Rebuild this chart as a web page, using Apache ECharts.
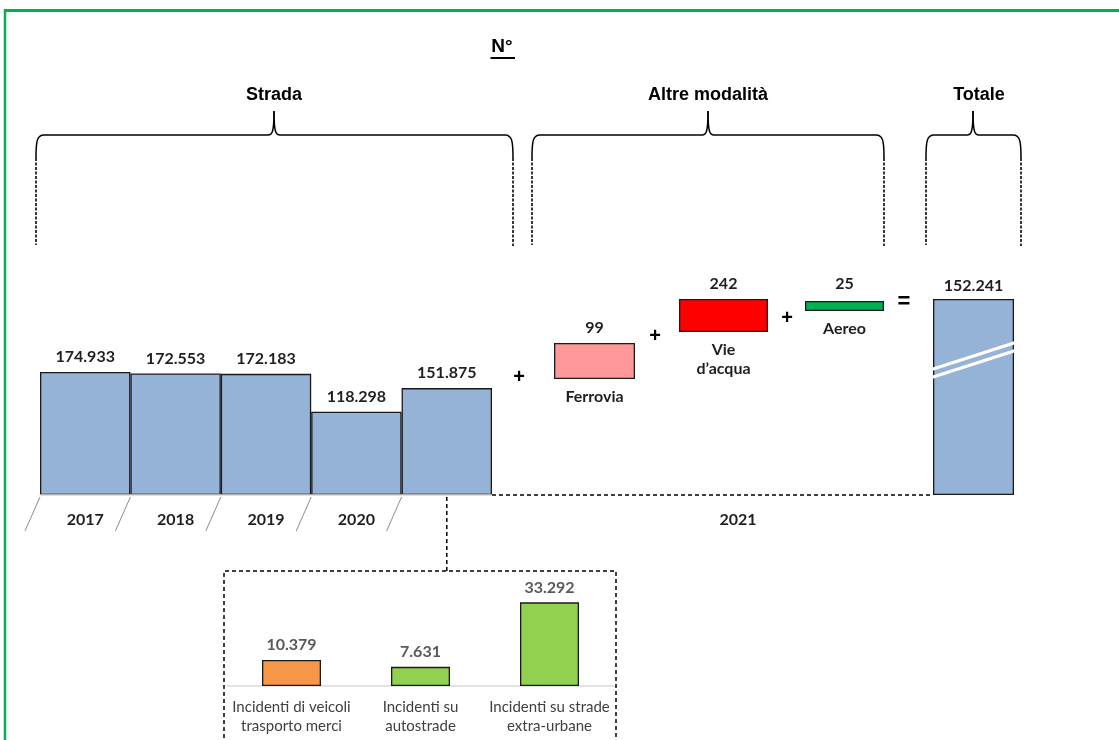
<!DOCTYPE html>
<html><head><meta charset="utf-8">
<script src="https://cdn.jsdelivr.net/npm/echarts@6/dist/echarts.min.js"></script>
<style>html,body{margin:0;padding:0;background:#fff}#c{width:1119px;height:740px}</style>
</head><body><div id="c"></div>
<script>
// ---- data ----
const years = ['2017', '2018', '2019', '2020', '2021'];
const stradaValues = [174933, 172553, 172183, 118298, 151875];
const altreNames = ['Ferrovia', 'Vie\nd\u2019acqua', 'Aereo'];
const altreValues = [99, 242, 25];
const altreColors = ['#FF9999', '#FF0000', '#00B050'];
const totaleValue = 152241;
const dettaglioNames = ['Incidenti di veicoli\ntrasporto merci', 'Incidenti su\nautostrade', 'Incidenti su strade\nextra-urbane'];
const dettaglioValues = [10379, 7631, 33292];
const dettaglioColors = ['#F79646', '#92D050', '#92D050'];
const groupTitles = ['Strada', 'Altre modalit\u00e0', 'Totale'];
const unitTitle = 'N\u00b0';
const yearTotale = '2021';

// ---- helpers ----
const fmt = v => String(v).replace(/\B(?=(\d{3})+(?!\d))/g, '.');
const CAL = 'Lato, "Open Sans", sans-serif';
const ARI = '"Liberation Sans", Arial, sans-serif';
const TXT = '#1f1f1f';
const valLabel = (dist) => ({show: true, position: 'top', distance: dist, formatter: p => fmt(p.value),
  color: TXT, fontFamily: CAL, fontWeight: 'bold', fontSize: 16});

const chart = echarts.init(document.getElementById('c'), null, {renderer: 'canvas'});

const W = 1119, H = 740;
const grids = [
  {left: 40, width: 452, top: 354.25, height: 140.75},   // strada
  {left: 554, width: 81, top: 343, height: 36},          // ferrovia
  {left: 679, width: 89, top: 299, height: 33},          // vie d'acqua
  {left: 805, width: 79, top: 301, height: 10},          // aereo
  {left: 933, width: 81, top: 299, height: 196},         // totale
  {left: 227, width: 387, top: 585.5, height: 100.5}     // dettaglio
];

const xAxes = [], yAxes = [], series = [];
// strada
xAxes.push({gridIndex: 0, type: 'category', data: years, z: 5,
  axisLine: {show: true, lineStyle: {color: '#d9d9d9', width: 1.5}}, axisTick: {show: false},
  axisLabel: {interval: 0, margin: 17, formatter: (v, i) => i < 4 ? v : '', color: TXT,
    fontFamily: CAL, fontWeight: 'bold', fontSize: 16}});
yAxes.push({gridIndex: 0, type: 'value', min: 0, max: 200000, show: false});
series.push({type: 'bar', xAxisIndex: 0, yAxisIndex: 0, data: stradaValues, barCategoryGap: '0%',
  itemStyle: {color: '#95B3D7', borderColor: '#1a1a1a', borderWidth: 1.3}, label: valLabel(7)});
// altre modalità
altreNames.forEach((n, i) => {
  const gi = i + 1;
  xAxes.push({gridIndex: gi, type: 'category', data: [n], axisLine: {show: false}, axisTick: {show: false},
    axisLabel: {interval: 0, margin: 8, color: TXT, fontFamily: CAL, fontWeight: 'bold', fontSize: 16, lineHeight: 19}});
  yAxes.push({gridIndex: gi, type: 'value', min: 0, max: 'dataMax', show: false});
  series.push({type: 'bar', xAxisIndex: gi, yAxisIndex: gi, data: [altreValues[i]], barWidth: '100%',
    itemStyle: {color: altreColors[i], borderColor: '#1a1a1a', borderWidth: 1.3}, label: valLabel(i === 2 ? 9 : 7)});
});
// totale
xAxes.push({gridIndex: 4, type: 'category', data: [groupTitles[2]], show: false});
yAxes.push({gridIndex: 4, type: 'value', min: 0, max: 'dataMax', show: false});
series.push({type: 'bar', xAxisIndex: 4, yAxisIndex: 4, data: [totaleValue], barWidth: '100%',
  itemStyle: {color: '#95B3D7', borderColor: '#1a1a1a', borderWidth: 1.3}, label: valLabel(5)});
// dettaglio
xAxes.push({gridIndex: 5, type: 'category', data: dettaglioNames,
  axisLine: {show: true, lineStyle: {color: '#d9d9d9', width: 1.5}}, axisTick: {show: false},
  axisLabel: {interval: 0, margin: 12, color: '#404040', fontFamily: CAL, fontSize: 15, lineHeight: 19}});
yAxes.push({gridIndex: 5, type: 'value', min: 0, max: 40000, show: false});
series.push({type: 'bar', xAxisIndex: 5, yAxisIndex: 5, barWidth: 59,
  data: dettaglioValues.map((v, i) => ({value: v, itemStyle: {color: dettaglioColors[i]}})),
  itemStyle: {borderColor: '#1a1a1a', borderWidth: 1.3},
  label: Object.assign(valLabel(7), {color: '#595959'})});

chart.setOption({animation: false, grid: grids, xAxis: xAxes, yAxis: yAxes, series: series});

// ---- decorations ----
const G = [];
const txt = (t, x, y, font, fill) => G.push({type: 'text', z: 10,
  style: {text: t, x: x, y: y, font: font, fill: fill || TXT, align: 'center', verticalAlign: 'middle'}});
const line = (x1, y1, x2, y2, stroke, lw, dash, z) => G.push({type: 'line', z: z || 10,
  shape: {x1: x1, y1: y1, x2: x2, y2: y2}, style: {stroke: stroke, lineWidth: lw, lineDash: dash || null}});
const curve = (x1, y1, c1x, c1y, c2x, c2y, x2, y2) => G.push({type: 'bezierCurve', z: 10,
  shape: {x1: x1, y1: y1, cpx1: c1x, cpy1: c1y, cpx2: c2x, cpy2: c2y, x2: x2, y2: y2},
  style: {stroke: '#000', lineWidth: 1.5, fill: null}});

// green frame
line(5, 10.5, W, 10.5, '#00B050', 3);
line(5, 9, 5, H, '#00B050', 2.5);

// unit title
txt(unitTitle, 502, 47, 'bold 19px ' + ARI, '#000');
line(490.5, 58, 515, 58, '#000', 2);

// braces
const braces = [[36, 513, 274], [532, 884, 708], [926, 1021, 973]];
const yH = 135, yTop = 111, yEnd = 158;
braces.forEach(function (b, i) {
  const x0 = b[0], x1 = b[1], tip = b[2];
  curve(x0, yEnd, x0, yH + 6, x0 + 1, yH, x0 + 8, yH);
  line(x0 + 8, yH, tip - 6, yH, '#000', 1.5);
  curve(tip - 6, yH, tip - 2, yH, tip, yH - 2, tip, yTop);
  curve(tip, yTop, tip, yH - 2, tip + 2, yH, tip + 6, yH);
  line(tip + 6, yH, x1 - 8, yH, '#000', 1.5);
  curve(x1 - 8, yH, x1 - 1, yH, x1, yH + 6, x1, yEnd);
  line(x0, yEnd, x0, 245, '#222', 1.8, [3, 1.5]);
  line(x1, yEnd, x1, 246, '#222', 1.8, [3, 1.5]);
  txt(groupTitles[i], i === 2 ? 979 : tip, 95, 'bold 18px ' + ARI, '#000');
});

// operators
txt('+', 519, 377, 'bold 20px ' + ARI, '#000');
txt('+', 655, 336, 'bold 20px ' + ARI, '#000');
txt('+', 787, 318, 'bold 20px ' + ARI, '#000');
txt('=', 904, 302, 'bold 22px ' + ARI, '#000');

// slanted separators & 2021 connectors (from scales)
const p0 = chart.convertToPixel({xAxisIndex: 0, yAxisIndex: 0}, [0, 0]);
const p1 = chart.convertToPixel({xAxisIndex: 0, yAxisIndex: 0}, [1, 0]);
const band = p1[0] - p0[0];
const base = p0[1];
for (let i = 0; i < years.length; i++) {
  const bx = p0[0] - band / 2 + i * band;
  line(bx, base + 2, bx - 15, base + 36, '#8c8c8c', 1);
}
const last = chart.convertToPixel({xAxisIndex: 0, yAxisIndex: 0}, [4, 0]);
line(last[0] + band / 2, base, 932, base, '#000', 1.5, [4, 3]);
txt(yearTotale, 738, 520, 'bold 16px ' + CAL, TXT);
line(last[0], base + 2, last[0], 571, '#000', 1.5, [4, 3]);

// inset dashed frame
G.push({type: 'polyline', z: 10, shape: {points: [[224, H + 5], [224, 571], [616, 571], [616, H + 5]]},
  style: {stroke: '#000', lineWidth: 1.5, lineDash: [4, 3], fill: null}});

// axis break on totale bar
line(930, 370, 1017, 342, '#fff', 3, null, 20);
line(930, 378, 1017, 350, '#fff', 3, null, 20);

chart.setOption({graphic: {elements: G}});
</script>
</body></html>
